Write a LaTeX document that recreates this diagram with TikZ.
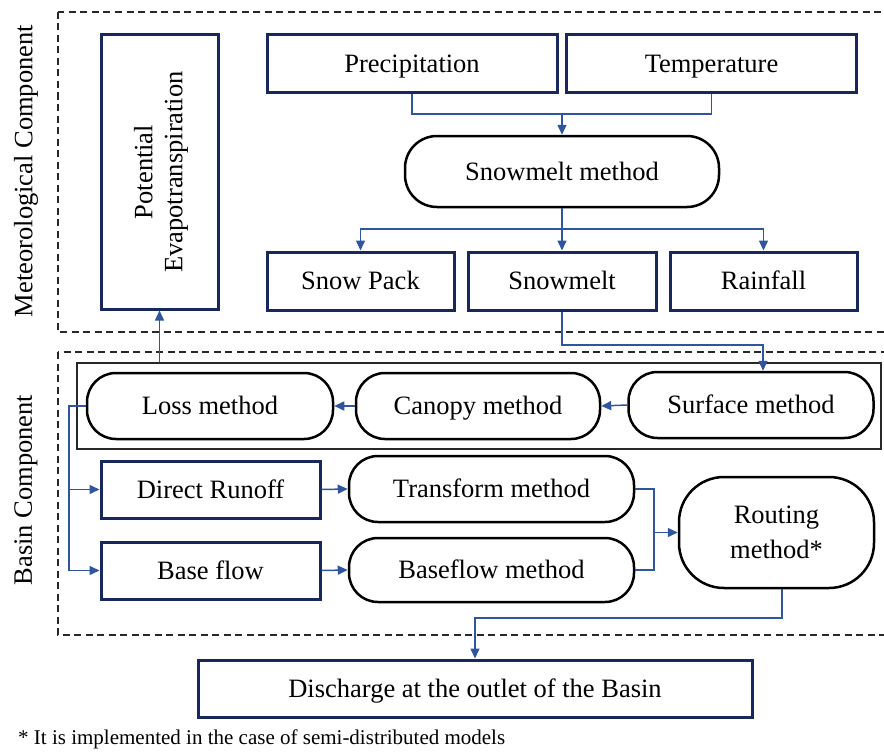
\documentclass[tikz,border=0pt]{standalone}
\usepackage{fontspec}
\setmainfont{Liberation Serif}
\usetikzlibrary{arrows.meta}
\definecolor{conn}{RGB}{47,85,160}
\definecolor{navy}{RGB}{25,40,90}
\definecolor{dashc}{RGB}{40,40,40}
\begin{document}
\begin{tikzpicture}[x=1pt,y=-1pt,
  every node/.style={font=\fontsize{26.5}{30}\selectfont, inner sep=0pt},
  txt/.style={text height=24pt, text depth=6.5pt},
  rbox/.style={txt, draw=navy, line width=3pt, fill=white},
  pillbase/.style={draw=black, line width=2.5pt, rounded corners=29pt, fill=white},
  pill/.style={pillbase, txt},
  link/.style={draw=conn, line width=1.5pt},
  arr/.style={link, -{Triangle[length=10pt,width=9pt]}},
  zone/.style={draw=dashc, line width=2pt, dash pattern=on 7pt off 4.5pt},
  ]
\useasboundingbox (0,0) rectangle (884,752);
\clip (0,0) rectangle (884,752);
% zones
\draw[zone] (58,12) rectangle (920,332);
\draw[zone] (58,352) rectangle (920,635);
\node[rotate=90] (metlab) at (26,171) {Meteorological Component};
\node[rotate=90] (baslab) at (26,490) {Basin Component};
% meteorological nodes
\node[draw=navy, line width=3pt, fill=white, minimum width=117pt, minimum height=274pt] (pet) at (159.5,172) {};
\node[rotate=90, align=center] (petlab) at (161,172) {Potential\\Evapotranspiration};
\node[rbox, minimum width=290pt, minimum height=58pt] (prec) at (412,64) {Precipitation};
\node[rbox, minimum width=290pt, minimum height=58pt] (temp) at (711.5,64) {Temperature};
\node[pill, rounded corners=32pt, minimum width=314pt, minimum height=71pt] (smm) at (562,171.5) {Snowmelt method};
\node[rbox, minimum width=187pt, minimum height=58pt] (snowpack) at (360.5,281) {Snow Pack};
\node[rbox, minimum width=188pt, minimum height=58pt] (snowmelt) at (562,281) {Snowmelt};
\node[rbox, minimum width=187pt, minimum height=58pt] (rainfall) at (763.5,281) {Rainfall};
% basin nodes
\node[draw=dashc, line width=1.5pt, minimum width=804pt, minimum height=86pt] (inner) at (479,406) {};
\node[pill, minimum width=246pt, minimum height=66pt] (loss) at (210,406) {Loss method};
\node[pill, minimum width=244pt, minimum height=66pt] (canopy) at (478,406) {Canopy method};
\node[pill, minimum width=245pt, minimum height=66pt] (surface) at (751,405) {Surface method};
\node[rbox, minimum width=219pt, minimum height=57pt] (dr) at (210.5,489.5) {Direct Runoff};
\node[rbox, minimum width=219pt, minimum height=57pt] (bf) at (210.5,570.5) {Base flow};
\node[pill, minimum width=285pt, minimum height=66pt] (transform) at (491.5,489) {Transform method};
\node[pill, minimum width=285pt, minimum height=64pt] (baseflowm) at (491.5,570) {Baseflow method};
\node[pillbase, rounded corners=45pt, align=center, font=\fontsize{26.5}{35}\selectfont, minimum width=195pt, minimum height=111pt] (routing) at (776.5,532.5) {Routing\\method*};
\node[rbox, minimum width=554pt, minimum height=57pt] (discharge) at (475,688.5) {Discharge at the outlet of the Basin};
\node[anchor=west, font=\fontsize{21}{24}\selectfont] (note) at (18,739) {* It is implemented in the case of semi-distributed models};
% connectors
\coordinate (j1) at (562,114);
\draw[link] (prec.south) |- (j1) -| (temp.south);
\draw[arr] (j1) -- (smm.north);
\coordinate (j2) at (562,229);
\draw[link] (smm.south) -- (j2);
\draw[arr] (j2) -| (snowpack.north);
\draw[arr] (j2) -| (rainfall.north);
\draw[arr] (j2) -- (snowmelt.north);
\coordinate (s1) at (763,345);
\draw[arr] (snowmelt.south) |- (s1) -- (s1 |- surface.north);
\draw[arr] (pet.south |- inner.north) -- (pet.south);
\draw[arr] (surface.west) -- (canopy.east);
\draw[arr] (canopy.west) -- (loss.east);
\coordinate (l1) at (69,406);
\draw[link] (loss.west) -- (l1) -- (l1 |- bf.west);
\draw[arr] (l1 |- dr.west) -- (dr.west);
\draw[arr] (l1 |- bf.west) -- (bf.west);
\draw[arr] (dr.east) -- (transform.west);
\draw[arr] (bf.east) -- (baseflowm.west);
\coordinate (r1) at (654,532.5);
\draw[link] (transform.east) -| (r1) |- (baseflowm.east);
\draw[arr] (r1) -- (routing.west);
\coordinate (r2) at (782,618);
\draw[arr] (routing.south -| r2) -- (r2) -| (discharge.north);
\end{tikzpicture}
\end{document}
